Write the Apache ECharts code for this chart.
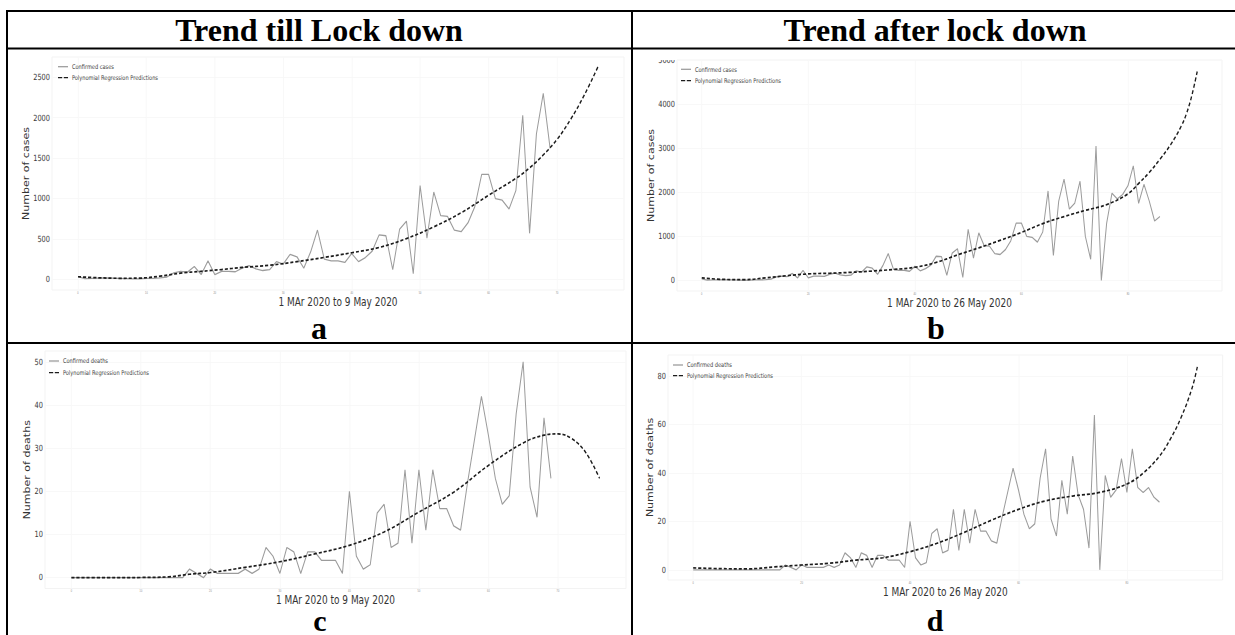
<!DOCTYPE html>
<html><head><meta charset="utf-8">
<script src="https://cdn.jsdelivr.net/npm/echarts@6/dist/echarts.min.js"></script>
<style>
html,body{margin:0;padding:0;background:#fff;overflow:hidden}
#wrap{position:relative;width:1235px;height:635px;overflow:hidden}
#c{position:absolute;left:0;top:0;height:635px;transform-origin:0 0}
#t{position:absolute;left:0;top:0;width:1235px;height:635px}
</style>
</head><body><div id="wrap"><div id="c"></div><div id="t"></div></div>
<script>
// ---- data (daily values, day 0 = 1 Mar 2020) ----
const confirmedCases = [35,10,12,15,18,16,14,10,6,8,12,14,18,30,80,100,90,160,60,230,
  60,100,100,95,140,170,130,110,120,220,190,310,280,140,340,610,250,230,230,210,
  320,220,270,350,550,540,120,620,720,70,1160,510,1080,790,780,610,590,700,900,1300,
  1300,1000,980,870,1100,2030,570,1800,2300,1620,1750,2250,1000,480,3050,0,1300,1980,1850,1950,
  2150,2600,1750,2180,1800,1350,1450];
const confirmedDeaths = [0,0,0,0,0,0,0,0,0,0,0,0,0,0,0,0,0,2,1,0,
  2,1,1,1,1,2,1,2,7,5,1,7,6,1,6,6,4,4,4,1,
  20,5,2,3,15,17,7,8,25,8,25,11,25,16,16,12,11,22,32,42,
  33,23,17,19,38,50,21,14,37,23,47,31,25,9,64,0,39,30,33,46,
  32,50,34,32,34,30,28];
const daysTillLockdown = 70;   // 1 Mar - 9 May
const daysAfterLockdown = 87;  // 1 Mar - 26 May

const predCasesTillDays   = [0,3,6,9,12,15,18,21,24,28,32,36,40,44,48,52,56,60,64,66,68,70,72,74,76];
const predCasesTillValues = [33,20,14,16,40,78,100,122,148,175,220,272,330,395,505,650,825,1040,1250,1380,1540,1730,1980,2280,2630];
const predCasesAfterDays   = [0,4,8,12,16,20,24,28,32,36,40,44,48,52,56,60,64,68,72,76,80,82,84,86,88,90,91,92,93];
const predCasesAfterValues = [60,25,20,60,110,150,165,185,215,250,300,410,580,740,910,1090,1290,1450,1590,1720,1965,2200,2450,2750,3080,3500,3790,4200,4740];
const predDeathsTillDays   = [0,5,10,14,17,20,25,30,35,40,45,50,55,60,65,68,70,72,74,76];
const predDeathsTillValues = [0,0,0.05,0.2,0.8,1.2,2.4,3.7,5.5,7.5,10.6,15.2,19.8,26.0,31.2,33.0,33.3,32.2,29,23];
const predDeathsAfterDays   = [0,5,10,15,20,25,30,35,40,45,50,55,60,65,70,75,80,83,86,88,90,92,93];
const predDeathsAfterValues = [0.8,0.5,0.4,1.2,2,2.7,4,5,7.5,11,15.5,20.5,25,28.5,30.5,32,35.5,40,47,54,63,75,84];

const xTicksTill  = [0,10,20,30,40,50,60,70];
const xTicksAfter = [0,20,40,60,80];
const yTicksCasesTill  = [0,500,1000,1500,2000,2500];
const yTicksCasesAfter = [0,1000,2000,3000,4000,5000];
const yTicksDeathsTill  = [0,10,20,30,40,50];
const yTicksDeathsAfter = [0,20,40,60,80];

const headers = ['Trend till Lock down','Trend after lock down'];
const panelLetters = ['a','b','c','d'];
const xTitles = ['1 MAr 2020 to 9 May 2020','1 MAr 2020 to 26 May 2020','1 MAr 2020 to 9 May 2020','1 MAr 2020 to 26 May 2020'];
const yTitles = ['Number of cases','Number of cases','Number of deaths','Number of deaths'];
const confNames = ['Confirmed cases','Confirmed cases','Confirmed deaths','Confirmed deaths'];
const predName = 'Polynomial Regression Predictions';

// ---- layout: plots are horizontally squeezed like the pasted figures ----
const S = 0.78;
const FONT = "'DejaVu Sans',sans-serif";
const panels = [
  {conf: confirmedCases.slice(0, daysTillLockdown), pd: predCasesTillDays, pv: predCasesTillValues, xt: xTicksTill, yt: yTicksCasesTill,
   box:[52,57,624,290], xr:[-3.8,79.8], yr:[-131,2751], xGap:5.5, yGap:17.5, leg:[58,62.7,3]},
  {conf: confirmedCases.slice(0, daysAfterLockdown), pd: predCasesAfterDays, pv: predCasesAfterValues, xt: xTicksAfter, yt: yTicksCasesAfter,
   box:[677,60,1222,291], xr:[-4.65,97.65], yr:[-238,5000], xGap:6, yGap:10.8, leg:[681,65.3,3.4]},
  {conf: confirmedDeaths.slice(0, daysTillLockdown), pd: predDeathsTillDays, pv: predDeathsTillValues, xt: xTicksTill, yt: yTicksDeathsTill,
   box:[45,351,626,588.5], xr:[-3.8,79.8], yr:[-2.5,52.5], xGap:4, yGap:3, leg:[49,357,3.7]},
  {conf: confirmedDeaths.slice(0, daysAfterLockdown), pd: predDeathsAfterDays, pv: predDeathsAfterValues, xt: xTicksAfter, yt: yTicksDeathsAfter,
   box:[668,355,1222.6,580], xr:[-4.65,97.65], yr:[-4.2,88.8], xGap:4.5, yGap:1.2, leg:[673,361,2.7]}
];
const solidIcon = 'path://M0,0h10v1h-10z';
const dashIcon  = 'path://M0,0h4.2v1h-4.2zM5.8,0h4.2v1h-4.2z';

const grid=[], xAxis=[], yAxis=[], series=[], legend=[];
panels.forEach((p,i)=>{
  const [l,t,r,b] = p.box;
  grid.push({left:l/S, top:t, width:(r-l)/S, height:b-t, show:true, borderColor:'#f1f1f1', borderWidth:1, backgroundColor:'transparent'});
  xAxis.push({gridIndex:i, type:'value', min:p.xr[0], max:p.xr[1],
    axisLine:{show:false}, axisTick:{show:false, customValues:p.xt},
    axisLabel:{customValues:p.xt, formatter:v=>String(v), fontSize:3, color:'#888', margin:1.5},
    splitLine:{show:true, lineStyle:{color:'#f7f7f7', width:1}},
    name:xTitles[i], nameLocation:'middle', nameGap:p.xGap,
    nameTextStyle:{fontSize:11.5, lineHeight:12, color:'#333', fontFamily:FONT, verticalAlign:'top'}});
  yAxis.push({gridIndex:i, type:'value', min:p.yr[0], max:p.yr[1],
    axisLine:{show:false}, axisTick:{show:false, customValues:p.yt},
    axisLabel:{customValues:p.yt, formatter:v=>String(v), fontSize:8.5, color:'#3a3a3a', margin:2.5, fontFamily:FONT},
    splitLine:{show:true, lineStyle:{color:'#f7f7f7', width:1}},
    name:yTitles[i], nameLocation:'middle', nameGap:p.yGap,
    nameTextStyle:{fontSize:11, color:'#333', fontFamily:FONT}});
  series.push({type:'line', name:confNames[i], xAxisIndex:i, yAxisIndex:i, symbol:'none', showSymbol:false,
    data:p.conf.map((v,d)=>[d,v]), lineStyle:{color:'#9c9c9c', width:1.3}, itemStyle:{color:'#9c9c9c'}, z:2});
  series.push({type:'line', name:predName, xAxisIndex:i, yAxisIndex:i, symbol:'none', showSymbol:false, smooth:0.4,
    data:p.pd.map((d,k)=>[d,p.pv[k]]), lineStyle:{color:'#1c1c1c', width:1.7, type:[4,2.5]}, itemStyle:{color:'#1c1c1c'}, z:3});
  legend.push({data:[{name:confNames[i], icon:solidIcon}, {name:predName, icon:dashIcon}], orient:'vertical', left:p.leg[0]/S, top:p.leg[1],
    itemWidth:10/S, itemHeight:1.6, itemGap:p.leg[2], padding:0,
    textStyle:{fontSize:6.5, lineHeight:8, color:'#444', fontFamily:FONT}});
});

const cdiv = document.getElementById('c');
cdiv.style.width = (1235/S) + 'px';
cdiv.style.transform = 'scaleX(' + S + ')';
const plotChart = echarts.init(cdiv, null, {renderer:'svg', width:1235/S, height:635});
plotChart.setOption({animation:false, backgroundColor:'#fff', grid, xAxis, yAxis, series, legend});

// ---- table frame, headers and panel letters ----
const serif = (px)=>"bold " + px + "px 'Liberation Serif','Times New Roman',serif";
const txt = (x,y,s,px)=>({type:'text', x, y, style:{text:s, font:serif(px||32), lineHeight:20, fill:'#000', align:'center', verticalAlign:'middle'}, z:110});
const ln = (x1,y1,x2,y2)=>({type:'line', shape:{x1,y1,x2,y2}, style:{stroke:'#000', lineWidth:2}, z:110});
const frameGraphic = [
  {type:'rect', shape:{x:630, y:50, width:46, height:10}, style:{fill:'#fff'}, z:100},
  ln(6,11,1235,11), ln(6,48.5,1235,48.5), ln(6,343,1235,343), ln(7,10,7,635), ln(632,10,632,635),
  txt(319,30,headers[0]), txt(935,30,headers[1]),
  txt(319,328,panelLetters[0]), txt(936,328,panelLetters[1]),
  txt(320,620,panelLetters[2],30), txt(935,620,panelLetters[3],30)
];
const frameChart = echarts.init(document.getElementById('t'), null, {renderer:'svg'});
frameChart.setOption({animation:false, graphic:frameGraphic});
</script></body></html>
